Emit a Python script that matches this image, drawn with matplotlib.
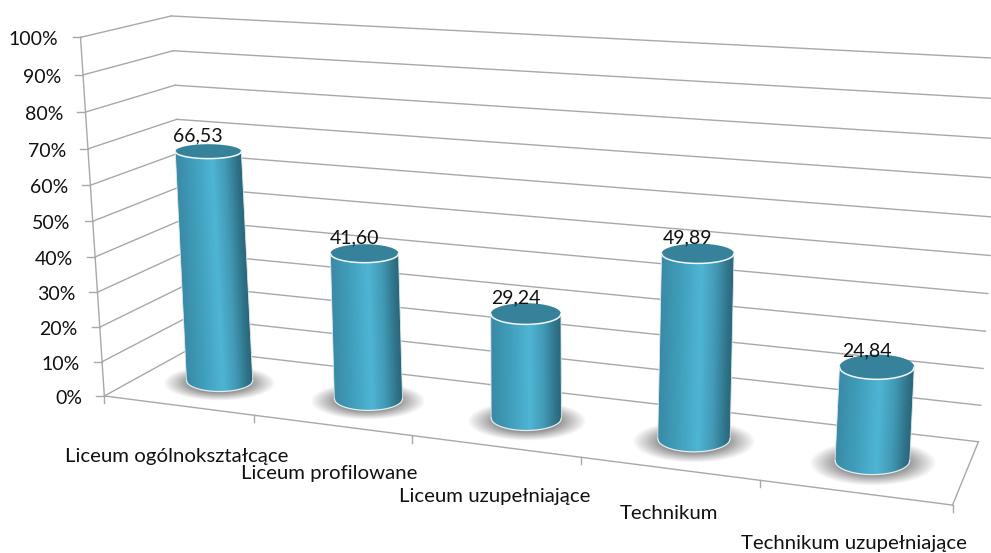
import numpy as np
import matplotlib
matplotlib.use("Agg")
import matplotlib.pyplot as plt
from matplotlib.colors import LinearSegmentedColormap
from matplotlib.path import Path
from matplotlib.patches import PathPatch

categories = ["Liceum ogólnokształcące", "Liceum profilowane", "Liceum uzupełniające",
              "Technikum", "Technikum uzupełniające"]
values = [66.53, 41.60, 29.24, 49.89, 24.84]
y_ticks = list(range(0, 101, 10))

# label nudges in pixels, the original layout is a bit uneven
cat_dx = [-1, -2, 0, 0, -1]
cat_dy = [51, 48, 50, 45, 51]

plt.rcParams['font.family'] = ['Lato', 'DejaVu Sans']
GRID = "#a8a8a8"
FS = 14
FS_CAT = 14.7

# camera for the fake 3d box: (category, depth, value) -> pixel, fitted from known spots
calib = [
    ((0, 0, 0), (105, 396)), ((1, 0, 0), (253, 415)), ((2, 0, 0), (413, 436)),
    ((3, 0, 0), (581, 457)), ((4, 0, 0), (763, 480)), ((5, 0, 0), (952, 504)),
    ((0, 0, 100), (80, 38)), ((0, 1, 0), (190, 350)), ((5, 1, 0), (979, 441)),
    ((0, 1, 100), (172, 15)), ((5, 1, 100), (1003, 59)),
    ((0.5, 0.5, 0), (218, 380)), ((2.5, 0.5, 0), (525, 418)), ((4.5, 0.5, 0), (872, 462)),
    ((0.5, 0.5, 66.53), (208.5, 151)), ((2.5, 0.5, 29.24), (525, 314)),
    ((3.5, 0.5, 49.89), (697, 254)), ((4.5, 0.5, 24.84), (876, 367)),
]


def fit_camera(points):
    A, b = [], []
    for (X, Y, Z), (px, py) in points:
        A.append([X, Y, Z, 1, 0, 0, 0, 0, -px * X, -px * Y, -px * Z])
        A.append([0, 0, 0, 0, X, Y, Z, 1, -py * X, -py * Y, -py * Z])
        b += [px, py]
    m = np.linalg.lstsq(np.array(A, float), np.array(b, float), rcond=None)[0]
    return np.append(m, 1).reshape(3, 4)


cam = fit_camera(calib)


def proj(u, d, v):
    w = cam @ np.array([u, d, v, 1.0])
    return w[0] / w[2], w[1] / w[2]


def seg(ax, a, b, **kw):
    pa, pb = proj(*a), proj(*b)
    ax.plot([pa[0], pb[0]], [pa[1], pb[1]], color=GRID, lw=1.0, zorder=1, **kw)


side_cmap = LinearSegmentedColormap.from_list("side", [
    (0, "#3a8aa6"), (0.25, "#3f9dba"), (0.55, "#4fb5d4"),
    (0.75, "#4299b5"), (0.92, "#2f7389"), (1, "#2a6578")])
shadow_rgb = np.array([0.53, 0.53, 0.53])


def ellipse_size(u, v):
    cx, cy = proj(u, 0.5, v)
    hh = abs(proj(u, 0.73, v)[1] - proj(u, 0.27, v)[1]) / 2
    hw = 33 + 0.0065 * (cx - 200)
    return cx, cy, hw, hh


def draw_shadow(ax, cx, cy, hw, hh):
    a, b = 1.7 * hw, 1.6 * hh
    xs = np.linspace(cx - a, cx + a, 120)
    ys = np.linspace(cy - b, cy + b, 60)
    xx, yy = np.meshgrid(xs, ys)
    r = np.sqrt(((xx - cx) / a) ** 2 + ((yy - cy) / b) ** 2)
    img = np.zeros(xx.shape + (4,))
    img[..., :3] = shadow_rgb
    img[..., 3] = np.clip((1 - r) * 2.2, 0, 1) * 0.9
    ax.imshow(img, extent=(xs[0], xs[-1], ys[-1], ys[0]), aspect="auto", zorder=2,
              interpolation="bilinear")


def draw_cylinder(ax, u, v):
    tx, ty, thw, thh = ellipse_size(u, v)
    bx, by, bhw, bhh = ellipse_size(u, 0)
    draw_shadow(ax, bx, by + 3, bhw, bhh)

    s = np.linspace(-1, 1, 81)
    arc = np.sqrt(1 - s ** 2)

    # side: gradient image that follows the lean, clipped to the outline
    x0 = min(tx - thw, bx - bhw) - 1
    x1 = max(tx + thw, bx + bhw) + 1
    y0, y1 = ty, by + bhh + 1
    xx, yy = np.meshgrid(np.linspace(x0, x1, 200), np.linspace(y0, y1, 300))
    f = np.clip((yy - ty) / (by - ty), 0, 1)
    pos = (xx - (tx + (bx - tx) * f)) / (thw + (bhw - thw) * f)
    im = ax.imshow((pos + 1) / 2, extent=(x0, x1, y1, y0), cmap=side_cmap, vmin=0, vmax=1,
                   aspect="auto", zorder=3, interpolation="bilinear")
    outline = np.vstack([
        np.column_stack([tx + thw * s, np.full(s.shape, ty)]),
        np.column_stack([(bx + bhw * s)[::-1], by + bhh * arc[::-1]]),
    ])
    clip = PathPatch(Path(np.vstack([outline, outline[:1]])), transform=ax.transData,
                     fc="none", ec="none")
    ax.add_patch(clip)
    im.set_clip_path(clip)

    # pale rim round the bottom and the sides
    ax.plot(bx + bhw * s, by + bhh * arc, color="#e4eef2", lw=0.9, zorder=4)
    ax.plot([tx - thw, bx - bhw], [ty, by], color="#dfe9ed", lw=0.6, zorder=4)
    ax.plot([tx + thw, bx + bhw], [ty, by], color="#dfe9ed", lw=0.6, zorder=4)

    t = np.linspace(0, 2 * np.pi, 100)
    ax.fill(tx + thw * np.cos(t), ty + thh * np.sin(t), color="#37829b", lw=0, zorder=5)
    ax.plot(tx + thw * s, ty + thh * arc, color="#f2f7f9", lw=1.1, zorder=6)
    return tx, ty


fig = plt.figure(figsize=(9.91, 5.53), dpi=100)
ax = fig.add_axes([0, 0, 1, 1])

# walls and floor
for v in y_ticks:
    seg(ax, (0, 0, v), (0, 1, v))
    seg(ax, (0, 1, v), (5, 1, v))
seg(ax, (0, 0, 0), (0, 0, 100))
seg(ax, (0, 0, 0), (5, 0, 0))
seg(ax, (5, 0, 0), (5, 1, 0))

# y axis ticks and labels
for v in y_ticks:
    px, py = proj(0, 0, v)
    ax.plot([px - 8, px], [py, py], color=GRID, lw=1.0, zorder=1)
    ax.text(px - 22, py + 2.5, f"{v}%", ha="right", va="center", fontsize=FS, color="#111111")

# category ticks
for i in range(len(categories) + 1):
    px, py = proj(i, 0, 0)
    ax.plot([px, px], [py, py + 7], color=GRID, lw=1.0, zorder=1)

for i, (name, v) in enumerate(zip(categories, values)):
    tx, ty = draw_cylinder(ax, i + 0.5, v)
    ax.text(tx - 10, ty - 16, f"{v:.2f}".replace(".", ","), ha="center", va="center",
            fontsize=FS, color="#111111", zorder=8)
    px, py = proj(i + 0.5, 0, 0)
    ax.text(px + cat_dx[i], py + cat_dy[i], name, ha="center", va="center",
            fontsize=FS_CAT, color="#111111", zorder=8)

ax.set_xlim(0, 991)
ax.set_ylim(553, 0)
ax.axis("off")
fig.savefig("out.png", dpi=100)
